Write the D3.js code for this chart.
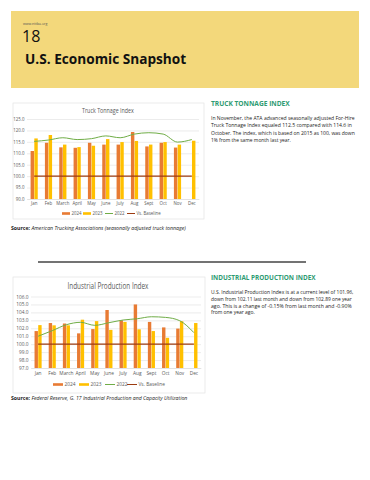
<!DOCTYPE html>
<html>
<head>
<meta charset="utf-8">
<script src="https://cdn.jsdelivr.net/npm/d3@7"></script>
<style>
  body { margin:0; background:#fff; }
  svg text { font-family:"Open Sans", "Noto Sans", sans-serif; }
</style>
</head>
<body>
<div id="page"></div>
<script>
// month categories (same for both charts)
var months = ["Jan","Feb","March","April","May","June","July","Aug","Sept","Oct","Nov","Dec"];
var seriesNames = ["2024","2023","2022","Vs. Baseline"];

// truck tonnage index
var truck2024 = [111.0,114.6,112.6,112.4,114.6,113.8,113.8,119.3,113.0,114.6,112.5,null];
var truck2023 = [116.5,118.0,113.8,112.7,113.3,116.2,114.9,115.4,113.8,114.9,113.8,115.5];
var truck2022 = [115.2,115.8,116.8,116.0,116.4,117.6,116.8,118.4,119.0,118.4,114.9,116.0];
var truckTicks = [90,95,100,105,110,115,120,125];

// industrial production index
var ind2024 = [101.65,102.66,102.6,101.36,101.9,104.3,103.0,105.0,102.8,102.11,101.96,null];
var ind2023 = [102.4,102.37,102.37,103.08,102.9,101.8,102.8,101.87,101.65,100.8,102.89,102.66];
var ind2022 = [101.0,101.7,102.45,102.75,102.37,102.7,103.04,103.2,103.45,103.37,102.95,101.45];
var indTicks = [97,98,99,100,101,102,103,104,105,106];

var baseline = 100;

var colors = {"2024":"#E87B34","2023":"#FFC000","2022":"#70AD47","Vs. Baseline":"#9C3B10"};

var svg = d3.select("#page").append("svg")
  .attr("width",370).attr("height",480);

// squeeze a text horizontally to the wanted width (fonts here are wider than the original)
function fit_text(x, y, str, width, size) {
  var g = svg.append("g");
  var t = g.append("text").attr("x",0).attr("y",0).text(str).style("font-size",size+"px");
  var w = t.node().getComputedTextLength();
  g.attr("transform","translate("+x+","+y+") scale("+(width/w)+",1)");
  return t;
}

// header band
svg.append("rect").attr("x",11).attr("y",11).attr("width",348).attr("height",77)
  .style("fill","#F3D87B");
svg.append("text").attr("x",23).attr("y",25).text("www.nttbu.org")
  .style("font-size","3.5px").style("fill","#555");
svg.append("text").attr("x",22).attr("y",42).text("18")
  .style("font-size","16px").style("fill","#111");
fit_text(25, 64, "U.S. Economic Snapshot", 153, 14)
  .style("font-weight","bold").style("fill","#111");

// divider
svg.append("line").attr("x1",38).attr("x2",306).attr("y1",262).attr("y2",262)
  .style("stroke","#444").style("stroke-width",1.6);

function side_text(x, y, title, titleLen, lines, lineH, lineLens, fs) {
  fit_text(x, y, title, titleLen, 6.5)
    .style("font-weight","bold").style("fill","#2E9B72");
  lines.forEach(function(l,i){
    fit_text(x, y+14+i*lineH, l, lineLens[i], fs).style("fill","#222");
  });
}

side_text(211, 106, "TRUCK TONNAGE INDEX", 75, [
  "In November, the ATA advanced seasonally adjusted For-Hire",
  "Truck Tonnage Index equaled 112.5 compared with 114.6 in",
  "October. The index, which is based on 2015 as 100, was down",
  "1% from the same month last year."
], 7.4, [144,141,144,80], 5.3);

side_text(211, 280, "INDUSTRIAL PRODUCTION INDEX", 99, [
  "U.S. Industrial Production Index is at a current level of 101.96,",
  "down from 102.11 last month and down from 102.89 one year",
  "ago. This is a change of -0.15% from last month and -0.90%",
  "from one year ago."
], 6.8, [143,141,141,44], 4.8);

function source_line(y, src) {
  var t = svg.append("text").attr("x",11).attr("y",y).style("font-size","5.2px").style("fill","#222");
  t.append("tspan").text("Source: ").style("font-weight","bold");
  t.append("tspan").text(src).style("font-style","italic");
}
source_line(230, "American Trucking Associations (seasonally adjusted truck tonnage)");
source_line(400, "Federal Reserve, G. 17 Industrial Production and Capacity Utilization");

function draw_chart(c) {
  // box
  svg.append("rect").attr("x",c.box[0]).attr("y",c.box[1]).attr("width",c.box[2]).attr("height",c.box[3])
    .style("fill","#fff").style("stroke","#E3E3E3").style("stroke-width",0.7);

  fit_text(c.titleX - c.titleLen/2, c.titleY, c.title, c.titleLen, c.titleSize)
    .style("fill","#595959");

  var x = d3.scaleBand().domain(months).range(c.xr).paddingInner(0.5).paddingOuter(0.25);
  var xs = d3.scaleBand().domain(["2024","2023"]).range([0,x.bandwidth()]).paddingInner(0.08);
  var y = d3.scaleLinear().domain([c.ticks[0], c.ticks[c.ticks.length-1]]).range(c.yr);

  var g = svg.append("g");

  // gridlines + y labels
  var ya = g.append("g").attr("transform","translate("+c.xr[0]+",0)")
    .call(d3.axisLeft(y).tickValues(c.ticks).tickSize(-(c.xr[1]-c.xr[0])).tickPadding(2.5)
      .tickFormat(d3.format(".1f")));
  ya.select(".domain").remove();
  ya.selectAll("line").style("stroke","#D9D9D9").style("stroke-width",0.5);
  ya.selectAll("text").style("font-size",c.fs+"px").style("fill","#595959")
    .style("font-family","'Open Sans', sans-serif");

  // bars
  var bars = [];
  months.forEach(function(m,i){
    if (c.s2024[i] != null) bars.push({m:m, s:"2024", v:c.s2024[i]});
    if (c.s2023[i] != null) bars.push({m:m, s:"2023", v:c.s2023[i]});
  });
  g.selectAll(".bar").data(bars).enter().append("rect")
    .attr("x",function(d){ return x(d.m)+xs(d.s); })
    .attr("width",xs.bandwidth())
    .attr("y",function(d){ return y(d.v); })
    .attr("height",function(d){ return y(c.ticks[0]) - y(d.v); })
    .style("fill",function(d){ return colors[d.s]; });

  // x labels
  var xa = g.append("g").attr("transform","translate(0,"+c.yr[0]+")")
    .call(d3.axisBottom(x).tickSize(0).tickPadding(c.xpad));
  xa.select(".domain").style("stroke","#D9D9D9").style("stroke-width",0.5);
  xa.selectAll("text").style("font-size",c.fs+"px").style("fill","#595959")
    .style("font-family","'Open Sans', sans-serif");

  var cx = function(m){ return x(m)+x.bandwidth()/2; };

  // 2022 smoothed line
  var line = d3.line().x(function(d,i){ return cx(months[i]); }).y(function(d){ return y(d); })
    .curve(d3.curveMonotoneX);
  g.append("path").datum(c.s2022).attr("d",line)
    .style("fill","none").style("stroke",colors["2022"]).style("stroke-width",1);

  // baseline
  g.append("line").attr("x1",cx(months[0])).attr("x2",cx(months[11]))
    .attr("y1",y(baseline)).attr("y2",y(baseline))
    .style("stroke",colors["Vs. Baseline"]).style("stroke-width",1.2);

  // legend
  var lg = g.append("g");
  seriesNames.forEach(function(s,i){
    var lx = c.legX[i];
    if (i < 2) {
      lg.append("rect").attr("x",lx).attr("y",c.legY-1.3).attr("width",c.legW).attr("height",2.6)
        .style("fill",colors[s]);
    } else {
      lg.append("line").attr("x1",lx).attr("x2",lx+c.legW).attr("y1",c.legY).attr("y2",c.legY)
        .style("stroke",colors[s]).style("stroke-width",1);
    }
    lg.append("text").attr("x",lx+c.legW+1.5).attr("y",c.legY+1.6).text(s)
      .style("font-size",c.fs+"px").style("fill","#595959");
  });
}

draw_chart({
  box:[13,103,191,116], title:"Truck Tonnage Index", titleX:108, titleY:113, titleLen:52, titleSize:6.5,
  xr:[27,199], yr:[199,119], ticks:truckTicks, fs:4.4, xpad:3,
  s2024:truck2024, s2023:truck2023, s2022:truck2022,
  legX:[62,83,105,127], legY:213.5, legW:8
});

draw_chart({
  box:[13,277,192,116], title:"Industrial Production Index", titleX:108, titleY:289, titleLen:81, titleSize:8.5,
  xr:[31,201], yr:[368,296.5], ticks:indTicks, fs:4.8, xpad:4,
  s2024:ind2024, s2023:ind2023, s2022:ind2022,
  legX:[53,79,105,127], legY:384.5, legW:10
});
</script>
</body>
</html>
